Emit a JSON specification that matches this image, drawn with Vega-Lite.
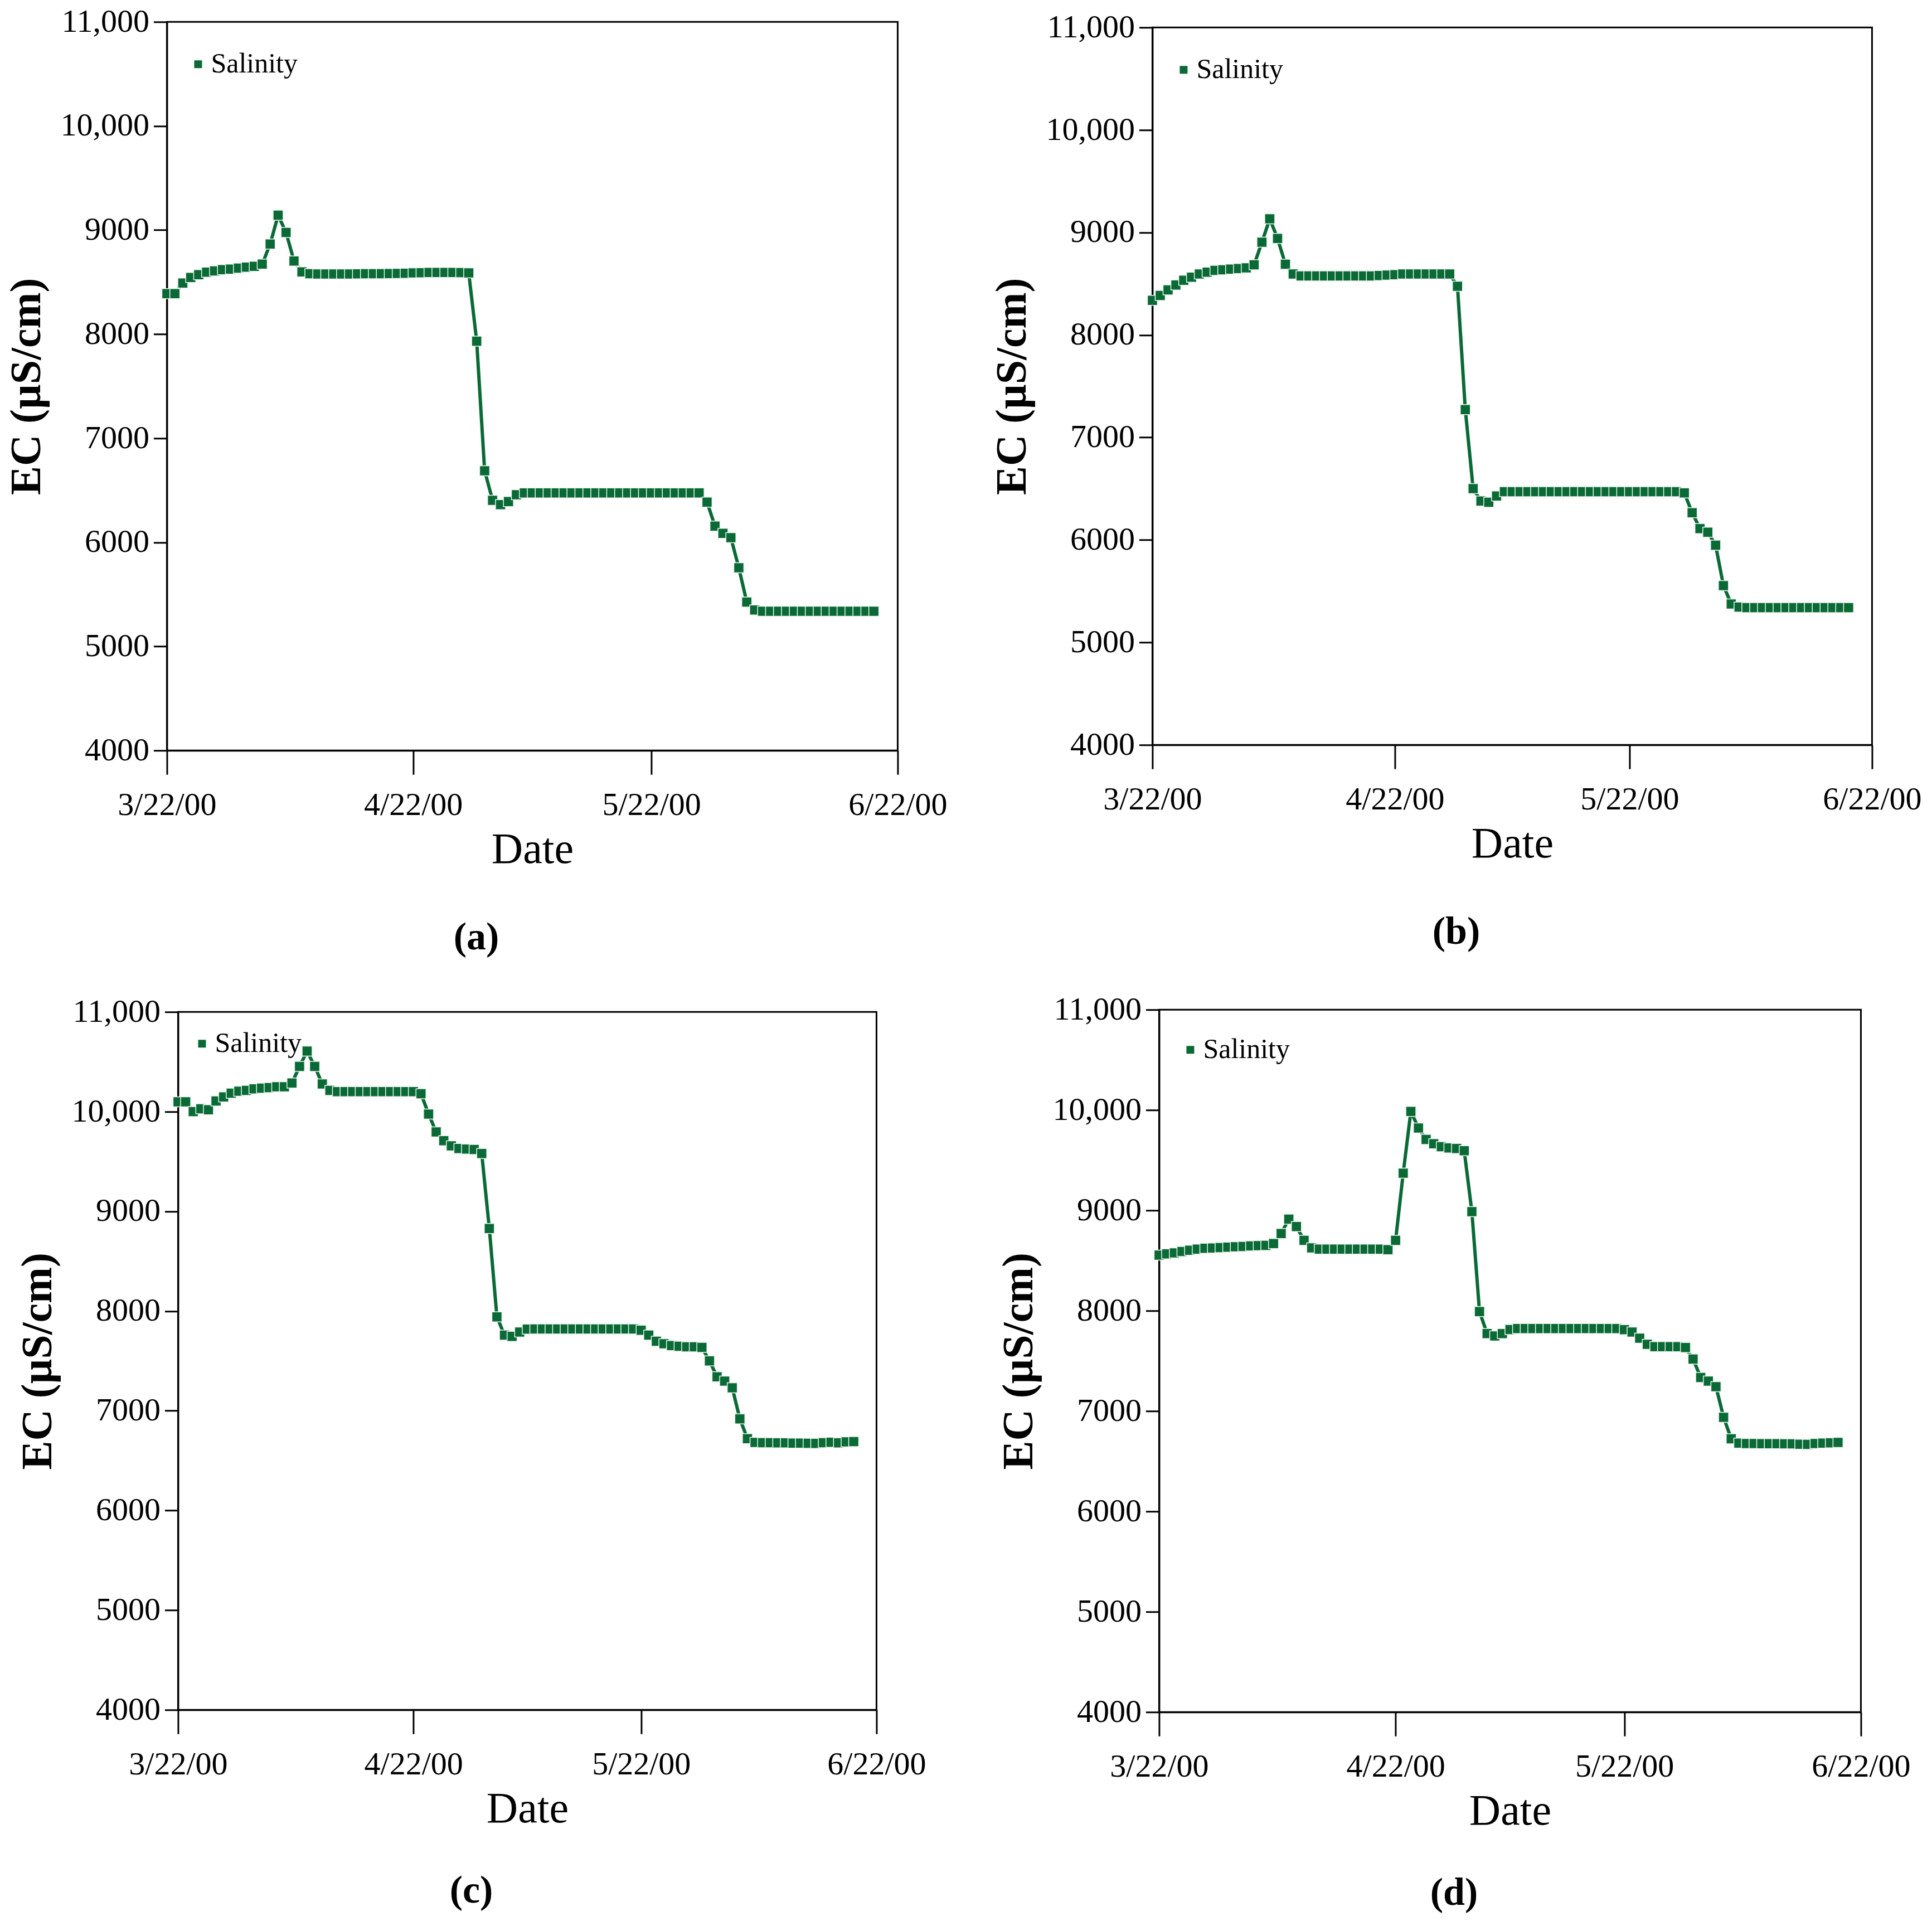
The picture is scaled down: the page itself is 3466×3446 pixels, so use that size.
{
"$schema":"https://vega.github.io/schema/vega-lite/v6.json",
"background":"white",
"padding":{"left":8,"top":8,"right":0,"bottom":0},
"config":{
 "font":"Liberation Serif",
 "view":{"stroke":"black","strokeWidth":3},
 "axis":{"grid":false,"domainColor":"black","domainWidth":3,"tickColor":"black","tickWidth":3,"labelFont":"Liberation Serif","labelFontSize":58,"labelColor":"black","titleFont":"Liberation Serif","titleColor":"black","titleFontSize":78,"labelFlush":false,"labelOverlap":false},
 "axisX":{"tickSize":43,"labelPadding":26,"titleFontWeight":"normal","titlePadding":12},
 "axisY":{"tickSize":24,"labelPadding":8,"titleFontWeight":"bold","titlePadding":20},
 "title":{"font":"Liberation Serif","fontSize":70,"fontWeight":"bold","orient":"bottom","offset":81,"anchor":"middle","frame":"bounds","color":"black"},
 "legend":{"orient":"none","title":null,"padding":0,"symbolSize":196,"symbolType":"square","symbolStrokeWidth":0,"labelFont":"Liberation Serif","labelFontSize":50,"labelColor":"black","labelOffset":-2}
},
"datasets":{
"a":[
{"date":"2000/03/22","ec":8389},{"date":"2000/03/23","ec":8389},{"date":"2000/03/24","ec":8491},{"date":"2000/03/25","ec":8545},{"date":"2000/03/26","ec":8571},{"date":"2000/03/27","ec":8595},{"date":"2000/03/28","ec":8607},{"date":"2000/03/29","ec":8620},{"date":"2000/03/30","ec":8625},{"date":"2000/03/31","ec":8634},
{"date":"2000/04/01","ec":8643},{"date":"2000/04/02","ec":8652},{"date":"2000/04/03","ec":8673},{"date":"2000/04/04","ec":8866},{"date":"2000/04/05","ec":9143},{"date":"2000/04/06","ec":8977},{"date":"2000/04/07","ec":8702},{"date":"2000/04/08","ec":8598},{"date":"2000/04/09","ec":8580},{"date":"2000/04/10","ec":8578},
{"date":"2000/04/11","ec":8578},{"date":"2000/04/12","ec":8578},{"date":"2000/04/13","ec":8578},{"date":"2000/04/14","ec":8578},{"date":"2000/04/15","ec":8579},{"date":"2000/04/16","ec":8580},{"date":"2000/04/17","ec":8580},{"date":"2000/04/18","ec":8581},{"date":"2000/04/19","ec":8582},{"date":"2000/04/20","ec":8583},
{"date":"2000/04/21","ec":8585},{"date":"2000/04/22","ec":8588},{"date":"2000/04/23","ec":8590},{"date":"2000/04/24","ec":8592},{"date":"2000/04/25","ec":8592},{"date":"2000/04/26","ec":8593},{"date":"2000/04/27","ec":8592},{"date":"2000/04/28","ec":8591},{"date":"2000/04/29","ec":8588},{"date":"2000/04/30","ec":7932},
{"date":"2000/05/01","ec":6687},{"date":"2000/05/02","ec":6404},{"date":"2000/05/03","ec":6362},{"date":"2000/05/04","ec":6392},{"date":"2000/05/05","ec":6457},{"date":"2000/05/06","ec":6474},{"date":"2000/05/07","ec":6474},{"date":"2000/05/08","ec":6474},{"date":"2000/05/09","ec":6474},{"date":"2000/05/10","ec":6474},
{"date":"2000/05/11","ec":6474},{"date":"2000/05/12","ec":6474},{"date":"2000/05/13","ec":6474},{"date":"2000/05/14","ec":6474},{"date":"2000/05/15","ec":6474},{"date":"2000/05/16","ec":6474},{"date":"2000/05/17","ec":6474},{"date":"2000/05/18","ec":6474},{"date":"2000/05/19","ec":6474},{"date":"2000/05/20","ec":6474},
{"date":"2000/05/21","ec":6474},{"date":"2000/05/22","ec":6474},{"date":"2000/05/23","ec":6474},{"date":"2000/05/24","ec":6474},{"date":"2000/05/25","ec":6474},{"date":"2000/05/26","ec":6474},{"date":"2000/05/27","ec":6474},{"date":"2000/05/28","ec":6474},{"date":"2000/05/29","ec":6386},{"date":"2000/05/30","ec":6156},
{"date":"2000/05/31","ec":6086},{"date":"2000/06/01","ec":6044},{"date":"2000/06/02","ec":5755},{"date":"2000/06/03","ec":5426},{"date":"2000/06/04","ec":5349},{"date":"2000/06/05","ec":5337},{"date":"2000/06/06","ec":5337},{"date":"2000/06/07","ec":5337},{"date":"2000/06/08","ec":5337},{"date":"2000/06/09","ec":5337},
{"date":"2000/06/10","ec":5337},{"date":"2000/06/11","ec":5337},{"date":"2000/06/12","ec":5337},{"date":"2000/06/13","ec":5337},{"date":"2000/06/14","ec":5337},{"date":"2000/06/15","ec":5337},{"date":"2000/06/16","ec":5337},{"date":"2000/06/17","ec":5337},{"date":"2000/06/18","ec":5337},{"date":"2000/06/19","ec":5337}
],
"b":[
{"date":"2000/03/22","ec":8337},{"date":"2000/03/23","ec":8385},{"date":"2000/03/24","ec":8439},{"date":"2000/03/25","ec":8487},{"date":"2000/03/26","ec":8534},{"date":"2000/03/27","ec":8564},{"date":"2000/03/28","ec":8594},{"date":"2000/03/29","ec":8612},{"date":"2000/03/30","ec":8630},{"date":"2000/03/31","ec":8636},
{"date":"2000/04/01","ec":8642},{"date":"2000/04/02","ec":8648},{"date":"2000/04/03","ec":8654},{"date":"2000/04/04","ec":8684},{"date":"2000/04/05","ec":8905},{"date":"2000/04/06","ec":9133},{"date":"2000/04/07","ec":8941},{"date":"2000/04/08","ec":8690},{"date":"2000/04/09","ec":8594},{"date":"2000/04/10","ec":8576},
{"date":"2000/04/11","ec":8576},{"date":"2000/04/12","ec":8576},{"date":"2000/04/13","ec":8576},{"date":"2000/04/14","ec":8576},{"date":"2000/04/15","ec":8576},{"date":"2000/04/16","ec":8576},{"date":"2000/04/17","ec":8576},{"date":"2000/04/18","ec":8576},{"date":"2000/04/19","ec":8576},{"date":"2000/04/20","ec":8580},
{"date":"2000/04/21","ec":8584},{"date":"2000/04/22","ec":8588},{"date":"2000/04/23","ec":8594},{"date":"2000/04/24","ec":8594},{"date":"2000/04/25","ec":8594},{"date":"2000/04/26","ec":8594},{"date":"2000/04/27","ec":8594},{"date":"2000/04/28","ec":8594},{"date":"2000/04/29","ec":8594},{"date":"2000/04/30","ec":8475},
{"date":"2000/05/01","ec":7272},{"date":"2000/05/02","ec":6500},{"date":"2000/05/03","ec":6380},{"date":"2000/05/04","ec":6368},{"date":"2000/05/05","ec":6428},{"date":"2000/05/06","ec":6470},{"date":"2000/05/07","ec":6470},{"date":"2000/05/08","ec":6470},{"date":"2000/05/09","ec":6470},{"date":"2000/05/10","ec":6470},
{"date":"2000/05/11","ec":6470},{"date":"2000/05/12","ec":6470},{"date":"2000/05/13","ec":6470},{"date":"2000/05/14","ec":6470},{"date":"2000/05/15","ec":6470},{"date":"2000/05/16","ec":6470},{"date":"2000/05/17","ec":6470},{"date":"2000/05/18","ec":6470},{"date":"2000/05/19","ec":6470},{"date":"2000/05/20","ec":6470},
{"date":"2000/05/21","ec":6470},{"date":"2000/05/22","ec":6470},{"date":"2000/05/23","ec":6470},{"date":"2000/05/24","ec":6470},{"date":"2000/05/25","ec":6470},{"date":"2000/05/26","ec":6470},{"date":"2000/05/27","ec":6470},{"date":"2000/05/28","ec":6470},{"date":"2000/05/29","ec":6458},{"date":"2000/05/30","ec":6266},
{"date":"2000/05/31","ec":6111},{"date":"2000/06/01","ec":6075},{"date":"2000/06/02","ec":5949},{"date":"2000/06/03","ec":5554},{"date":"2000/06/04","ec":5375},{"date":"2000/06/05","ec":5345},{"date":"2000/06/06","ec":5339},{"date":"2000/06/07","ec":5339},{"date":"2000/06/08","ec":5339},{"date":"2000/06/09","ec":5339},
{"date":"2000/06/10","ec":5339},{"date":"2000/06/11","ec":5339},{"date":"2000/06/12","ec":5339},{"date":"2000/06/13","ec":5339},{"date":"2000/06/14","ec":5339},{"date":"2000/06/15","ec":5339},{"date":"2000/06/16","ec":5339},{"date":"2000/06/17","ec":5339},{"date":"2000/06/18","ec":5339},{"date":"2000/06/19","ec":5339}
],
"c":[
{"date":"2000/03/22","ec":10098},{"date":"2000/03/23","ec":10098},{"date":"2000/03/24","ec":10000},{"date":"2000/03/25","ec":10028},{"date":"2000/03/26","ec":10019},{"date":"2000/03/27","ec":10107},{"date":"2000/03/28","ec":10148},{"date":"2000/03/29","ec":10185},{"date":"2000/03/30","ec":10204},{"date":"2000/03/31","ec":10213},
{"date":"2000/04/01","ec":10228},{"date":"2000/04/02","ec":10235},{"date":"2000/04/03","ec":10241},{"date":"2000/04/04","ec":10250},{"date":"2000/04/05","ec":10250},{"date":"2000/04/06","ec":10287},{"date":"2000/04/07","ec":10454},{"date":"2000/04/08","ec":10607},{"date":"2000/04/09","ec":10454},{"date":"2000/04/10","ec":10278},
{"date":"2000/04/11","ec":10213},{"date":"2000/04/12","ec":10200},{"date":"2000/04/13","ec":10200},{"date":"2000/04/14","ec":10200},{"date":"2000/04/15","ec":10200},{"date":"2000/04/16","ec":10200},{"date":"2000/04/17","ec":10200},{"date":"2000/04/18","ec":10200},{"date":"2000/04/19","ec":10200},{"date":"2000/04/20","ec":10200},
{"date":"2000/04/21","ec":10200},{"date":"2000/04/22","ec":10200},{"date":"2000/04/23","ec":10180},{"date":"2000/04/24","ec":9976},{"date":"2000/04/25","ec":9796},{"date":"2000/04/26","ec":9709},{"date":"2000/04/27","ec":9657},{"date":"2000/04/28","ec":9630},{"date":"2000/04/29","ec":9624},{"date":"2000/04/30","ec":9620},
{"date":"2000/05/01","ec":9580},{"date":"2000/05/02","ec":8828},{"date":"2000/05/03","ec":7942},{"date":"2000/05/04","ec":7758},{"date":"2000/05/05","ec":7746},{"date":"2000/05/06","ec":7789},{"date":"2000/05/07","ec":7819},{"date":"2000/05/08","ec":7820},{"date":"2000/05/09","ec":7820},{"date":"2000/05/10","ec":7820},
{"date":"2000/05/11","ec":7820},{"date":"2000/05/12","ec":7820},{"date":"2000/05/13","ec":7820},{"date":"2000/05/14","ec":7820},{"date":"2000/05/15","ec":7820},{"date":"2000/05/16","ec":7820},{"date":"2000/05/17","ec":7820},{"date":"2000/05/18","ec":7820},{"date":"2000/05/19","ec":7820},{"date":"2000/05/20","ec":7820},
{"date":"2000/05/21","ec":7820},{"date":"2000/05/22","ec":7807},{"date":"2000/05/23","ec":7758},{"date":"2000/05/24","ec":7697},{"date":"2000/05/25","ec":7672},{"date":"2000/05/26","ec":7654},{"date":"2000/05/27","ec":7647},{"date":"2000/05/28","ec":7641},{"date":"2000/05/29","ec":7641},{"date":"2000/05/30","ec":7635},
{"date":"2000/05/31","ec":7500},{"date":"2000/06/01","ec":7340},{"date":"2000/06/02","ec":7297},{"date":"2000/06/03","ec":7230},{"date":"2000/06/04","ec":6919},{"date":"2000/06/05","ec":6720},{"date":"2000/06/06","ec":6683},{"date":"2000/06/07","ec":6680},{"date":"2000/06/08","ec":6680},{"date":"2000/06/09","ec":6678},
{"date":"2000/06/10","ec":6678},{"date":"2000/06/11","ec":6676},{"date":"2000/06/12","ec":6676},{"date":"2000/06/13","ec":6674},{"date":"2000/06/14","ec":6672},{"date":"2000/06/15","ec":6680},{"date":"2000/06/16","ec":6684},{"date":"2000/06/17","ec":6678},{"date":"2000/06/18","ec":6688},{"date":"2000/06/19","ec":6690}
],
"d":[
{"date":"2000/03/22","ec":8554},{"date":"2000/03/23","ec":8566},{"date":"2000/03/24","ec":8577},{"date":"2000/03/25","ec":8590},{"date":"2000/03/26","ec":8603},{"date":"2000/03/27","ec":8614},{"date":"2000/03/28","ec":8622},{"date":"2000/03/29","ec":8625},{"date":"2000/03/30","ec":8629},{"date":"2000/03/31","ec":8633},
{"date":"2000/04/01","ec":8637},{"date":"2000/04/02","ec":8640},{"date":"2000/04/03","ec":8646},{"date":"2000/04/04","ec":8649},{"date":"2000/04/05","ec":8651},{"date":"2000/04/06","ec":8670},{"date":"2000/04/07","ec":8769},{"date":"2000/04/08","ec":8913},{"date":"2000/04/09","ec":8839},{"date":"2000/04/10","ec":8701},
{"date":"2000/04/11","ec":8627},{"date":"2000/04/12","ec":8614},{"date":"2000/04/13","ec":8614},{"date":"2000/04/14","ec":8614},{"date":"2000/04/15","ec":8614},{"date":"2000/04/16","ec":8614},{"date":"2000/04/17","ec":8614},{"date":"2000/04/18","ec":8614},{"date":"2000/04/19","ec":8614},{"date":"2000/04/20","ec":8614},
{"date":"2000/04/21","ec":8609},{"date":"2000/04/22","ec":8701},{"date":"2000/04/23","ec":9371},{"date":"2000/04/24","ec":9986},{"date":"2000/04/25","ec":9821},{"date":"2000/04/26","ec":9707},{"date":"2000/04/27","ec":9664},{"date":"2000/04/28","ec":9635},{"date":"2000/04/29","ec":9622},{"date":"2000/04/30","ec":9616},
{"date":"2000/05/01","ec":9594},{"date":"2000/05/02","ec":8988},{"date":"2000/05/03","ec":7992},{"date":"2000/05/04","ec":7772},{"date":"2000/05/05","ec":7749},{"date":"2000/05/06","ec":7772},{"date":"2000/05/07","ec":7812},{"date":"2000/05/08","ec":7822},{"date":"2000/05/09","ec":7822},{"date":"2000/05/10","ec":7822},
{"date":"2000/05/11","ec":7822},{"date":"2000/05/12","ec":7822},{"date":"2000/05/13","ec":7822},{"date":"2000/05/14","ec":7822},{"date":"2000/05/15","ec":7822},{"date":"2000/05/16","ec":7822},{"date":"2000/05/17","ec":7822},{"date":"2000/05/18","ec":7822},{"date":"2000/05/19","ec":7822},{"date":"2000/05/20","ec":7822},
{"date":"2000/05/21","ec":7822},{"date":"2000/05/22","ec":7811},{"date":"2000/05/23","ec":7787},{"date":"2000/05/24","ec":7726},{"date":"2000/05/25","ec":7665},{"date":"2000/05/26","ec":7641},{"date":"2000/05/27","ec":7641},{"date":"2000/05/28","ec":7641},{"date":"2000/05/29","ec":7641},{"date":"2000/05/30","ec":7634},
{"date":"2000/05/31","ec":7518},{"date":"2000/06/01","ec":7335},{"date":"2000/06/02","ec":7298},{"date":"2000/06/03","ec":7243},{"date":"2000/06/04","ec":6938},{"date":"2000/06/05","ec":6724},{"date":"2000/06/06","ec":6681},{"date":"2000/06/07","ec":6676},{"date":"2000/06/08","ec":6676},{"date":"2000/06/09","ec":6675},
{"date":"2000/06/10","ec":6675},{"date":"2000/06/11","ec":6675},{"date":"2000/06/12","ec":6674},{"date":"2000/06/13","ec":6673},{"date":"2000/06/14","ec":6670},{"date":"2000/06/15","ec":6668},{"date":"2000/06/16","ec":6676},{"date":"2000/06/17","ec":6680},{"date":"2000/06/18","ec":6684},{"date":"2000/06/19","ec":6687}
]
},
"vconcat":[
 {"hconcat":[
  {"width":1311,"height":1307,"data":{"name":"a"},"title":{"text":"(a)","offset":85},
   "encoding":{
    "x":{"field":"date","type":"temporal","scale":{"domain":[{"year":2000,"month":3,"date":22},{"year":2000,"month":6,"date":22}]},"axis":{"title":"Date","format":"%-m/%-d/%y","values":[{"year":2000,"month":3,"date":22},{"year":2000,"month":4,"date":22},{"year":2000,"month":5,"date":22},{"year":2000,"month":6,"date":22}]}},
    "y":{"field":"ec","type":"quantitative","scale":{"domain":[4000,11000],"nice":false,"zero":false},"axis":{"title":"EC (µS/cm)","values":[4000,5000,6000,7000,8000,9000,10000,11000],"labelExpr":"datum.value >= 10000 ? format(datum.value, ',') : format(datum.value, 'd')"}}
   },
   "layer":[
    {"mark":{"type":"line","color":"#0a6a36","strokeWidth":6,"strokeJoin":"round"}},
    {"mark":{"type":"point","shape":"square","filled":true,"size":324,"opacity":1,"stroke":"#eef5f0","strokeWidth":1.5},
     "encoding":{"color":{"datum":"Salinity","scale":{"range":["#0a6a36"]},"legend":{"legendX":31,"legendY":51}}}}
   ]},
  {"width":1291,"height":1287,"data":{"name":"b"},"title":{"text":"(b)","offset":85},
   "encoding":{
    "x":{"field":"date","type":"temporal","scale":{"domain":[{"year":2000,"month":3,"date":22},{"year":2000,"month":6,"date":22}]},"axis":{"title":"Date","format":"%-m/%-d/%y","values":[{"year":2000,"month":3,"date":22},{"year":2000,"month":4,"date":22},{"year":2000,"month":5,"date":22},{"year":2000,"month":6,"date":22}]}},
    "y":{"field":"ec","type":"quantitative","scale":{"domain":[4000,11000],"nice":false,"zero":false},"axis":{"title":"EC (µS/cm)","values":[4000,5000,6000,7000,8000,9000,10000,11000],"labelExpr":"datum.value >= 10000 ? format(datum.value, ',') : format(datum.value, 'd')"}}
   },
   "layer":[
    {"mark":{"type":"line","color":"#0a6a36","strokeWidth":6,"strokeJoin":"round"}},
    {"mark":{"type":"point","shape":"square","filled":true,"size":324,"opacity":1,"stroke":"#eef5f0","strokeWidth":1.5},
     "encoding":{"color":{"datum":"Salinity","scale":{"range":["#0a6a36"]},"legend":{"legendX":31,"legendY":51}}}}
   ]}
 ],"spacing":75,"center":true,"resolve":{"scale":{"color":"independent"},"legend":{"color":"independent"}}},
 {"hconcat":[
  {"width":1253,"height":1252,"data":{"name":"c"},"title":{"text":"(c)","offset":74},
   "encoding":{
    "x":{"field":"date","type":"temporal","scale":{"domain":[{"year":2000,"month":3,"date":22},{"year":2000,"month":6,"date":22}]},"axis":{"title":"Date","format":"%-m/%-d/%y","values":[{"year":2000,"month":3,"date":22},{"year":2000,"month":4,"date":22},{"year":2000,"month":5,"date":22},{"year":2000,"month":6,"date":22}]}},
    "y":{"field":"ec","type":"quantitative","scale":{"domain":[4000,11000],"nice":false,"zero":false},"axis":{"title":"EC (µS/cm)","values":[4000,5000,6000,7000,8000,9000,10000,11000],"labelExpr":"datum.value >= 10000 ? format(datum.value, ',') : format(datum.value, 'd')"}}
   },
   "layer":[
    {"mark":{"type":"line","color":"#0a6a36","strokeWidth":6,"strokeJoin":"round"}},
    {"mark":{"type":"point","shape":"square","filled":true,"size":324,"opacity":1,"stroke":"#eef5f0","strokeWidth":1.5},
     "encoding":{"color":{"datum":"Salinity","scale":{"range":["#0a6a36"]},"legend":{"legendX":18,"legendY":32}}}}
   ]},
  {"width":1259,"height":1260,"data":{"name":"d"},"title":{"text":"(d)","offset":74},
   "encoding":{
    "x":{"field":"date","type":"temporal","scale":{"domain":[{"year":2000,"month":3,"date":22},{"year":2000,"month":6,"date":22}]},"axis":{"title":"Date","format":"%-m/%-d/%y","values":[{"year":2000,"month":3,"date":22},{"year":2000,"month":4,"date":22},{"year":2000,"month":5,"date":22},{"year":2000,"month":6,"date":22}]}},
    "y":{"field":"ec","type":"quantitative","scale":{"domain":[4000,11000],"nice":false,"zero":false},"axis":{"title":"EC (µS/cm)","values":[4000,5000,6000,7000,8000,9000,10000,11000],"labelExpr":"datum.value >= 10000 ? format(datum.value, ',') : format(datum.value, 'd')"}}
   },
   "layer":[
    {"mark":{"type":"line","color":"#0a6a36","strokeWidth":6,"strokeJoin":"round"}},
    {"mark":{"type":"point","shape":"square","filled":true,"size":324,"opacity":1,"stroke":"#eef5f0","strokeWidth":1.5},
     "encoding":{"color":{"datum":"Salinity","scale":{"range":["#0a6a36"]},"legend":{"legendX":31,"legendY":47}}}}
   ]}
 ],"spacing":125,"center":true,"resolve":{"scale":{"color":"independent"},"legend":{"color":"independent"}}}
],
"spacing":61,
"center":true,
"resolve":{"scale":{"color":"independent"},"legend":{"color":"independent"}}
}
